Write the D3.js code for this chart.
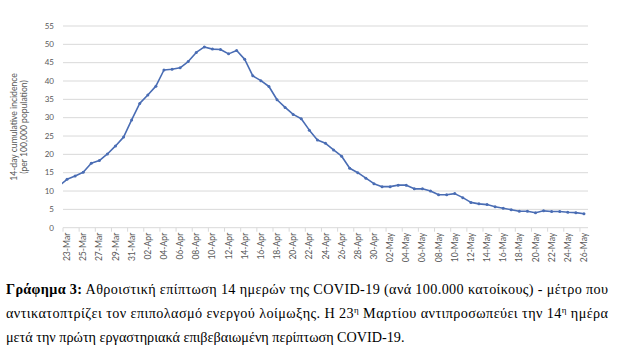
<!DOCTYPE html>
<html><head><meta charset="utf-8">
<script src="https://cdn.jsdelivr.net/npm/d3@7"></script>
<style>body{margin:0;background:#fff}</style>
</head><body><svg id="c" width="631" height="353"></svg>
<script>
// --- data ---
const startDate = "2020-03-22"; // first data point (drawn clipped at the plot edge)
const values = [11.4,
  13.2,14.1,15.1,17.6,18.3,20.1,22.3,24.7,29.4,
  33.9,36.2,38.6,43.0,43.2,43.6,45.3,47.8,49.3,48.7,48.6,47.4,48.3,45.9,41.4,40.1,38.5,34.9,32.8,30.9,29.7,26.6,23.9,23.0,21.2,19.5,16.2,15.0,13.5,12.0,
  11.2,11.2,11.6,11.6,10.6,10.6,10.0,9.0,9.0,9.3,8.2,6.9,6.5,6.3,5.7,5.3,4.9,4.5,4.5,4.1,4.6,4.4,4.4,4.2,4.1,3.8];
const axisStart = "2020-03-23", axisEnd = "2020-05-26";
const yTicks = [0,5,10,15,20,25,30,35,40,45,50,55];
const yTitle = ["14-day cumulative incidence","(per 100,000 population)"];
const captionBold = "Γράφημα 3:";
const captionLines = [
  [" Αθροιστική επίπτωση 14 ημερών της COVID-19 (ανά 100.000 κατοίκους) - μέτρο που"],
  ["αντικατοπτρίζει τον επιπολασμό ενεργού λοίμωξης. Η 23", "η", " Μαρτίου αντιπροσωπεύει την 14", "η", " ημέρα"],
  ["μετά την πρώτη εργαστηριακά επιβεβαιωμένη περίπτωση COVID-19."]
];

const parse = d3.timeParse("%Y-%m-%d"), fmt = d3.timeFormat("%d-%b");
const d0 = parse(axisStart), dEnd = parse(axisEnd), dStart = parse(startDate);
const data = values.map((v,i)=>({date:d3.timeDay.offset(dStart,i), v}));
const idx = d => d3.timeDay.count(d0, d);
const nCat = idx(dEnd)+1;

const svg = d3.select("#c");
const L=63, R=588, T=26, B=227.7;
const x = d3.scaleLinear().domain([-0.5, nCat-0.5]).range([L,R]);
const y = d3.scaleLinear().domain([0,55]).range([B,T]);
const font = "Lato, 'Open Sans', sans-serif";

// gridlines
svg.append("g").selectAll("line").data(yTicks.filter(t=>t>0)).join("line")
  .attr("x1",L).attr("x2",R).attr("y1",d=>y(d)).attr("y2",d=>y(d))
  .attr("stroke","#d9d9d9").attr("stroke-width",1);
// y labels
svg.append("g").selectAll("text").data(yTicks).join("text")
  .attr("x",54).attr("y",d=>y(d)).attr("dy","0.35em").attr("text-anchor","end")
  .attr("font-family",font).attr("font-size",8).attr("fill","#595959").text(d=>d);
// x axis line + ticks
svg.append("line").attr("x1",L).attr("x2",R).attr("y1",B).attr("y2",B).attr("stroke","#d9d9d9");
const tickIdx = d3.range(-0.5, nCat, 2);
svg.append("g").selectAll("line").data(tickIdx).join("line")
  .attr("x1",d=>x(d)).attr("x2",d=>x(d)).attr("y1",B).attr("y2",B+4).attr("stroke","#d9d9d9");
// x labels
const labelDates = d3.range(0,nCat,2).map(i=>d3.timeDay.offset(d0,i));
svg.append("g").selectAll("text").data(labelDates).join("text")
  .attr("transform",d=>`translate(${x(idx(d))+3},${B+5}) rotate(-90)`)
  .attr("text-anchor","end").attr("font-family",font).attr("font-size",8.6).attr("fill","#595959")
  .text(d=>fmt(d));
// y title
svg.append("g").selectAll("text").data(yTitle).join("text")
  .attr("transform",(d,i)=>`translate(${17+i*10},127) rotate(-90)`)
  .attr("text-anchor","middle").attr("font-family",font).attr("font-size",8.6).attr("fill","#595959").text(d=>d);

// line
svg.append("clipPath").attr("id","clip").append("rect").attr("x",L-1).attr("y",0).attr("width",R-L+1).attr("height",B+1);
const g = svg.append("g").attr("clip-path","url(#clip)");
const col = "#4a6db4";
g.append("path").datum(data).attr("fill","none").attr("stroke",col).attr("stroke-width",1.6)
  .attr("stroke-linejoin","round")
  .attr("d", d3.line().x(d=>x(idx(d.date))).y(d=>y(d.v)));
g.selectAll("circle").data(data).join("circle")
  .attr("cx",d=>x(idx(d.date))).attr("cy",d=>y(d.v)).attr("r",1.5).attr("fill",col);

// caption
const cap = svg.append("g").attr("font-family","'Liberation Serif','DejaVu Serif',serif").attr("font-size",14.2).attr("fill","#000");
const ys=[294,318,342];
captionLines.forEach((parts,li)=>{
  const t = cap.append("text").attr("x",6).attr("y",ys[li]);
  if(li<2){ t.attr("textLength",602).attr("lengthAdjust","spacing"); }
  if(li===0) t.append("tspan").attr("font-weight","bold").text(captionBold);
  parts.forEach((p,pi)=>{
    const s = t.append("tspan").text(p);
    if(pi%2===1){ s.attr("font-size",9).attr("dy",-5); }
    else if(pi>0){ s.attr("dy",5); }
  });
});
</script></body></html>
